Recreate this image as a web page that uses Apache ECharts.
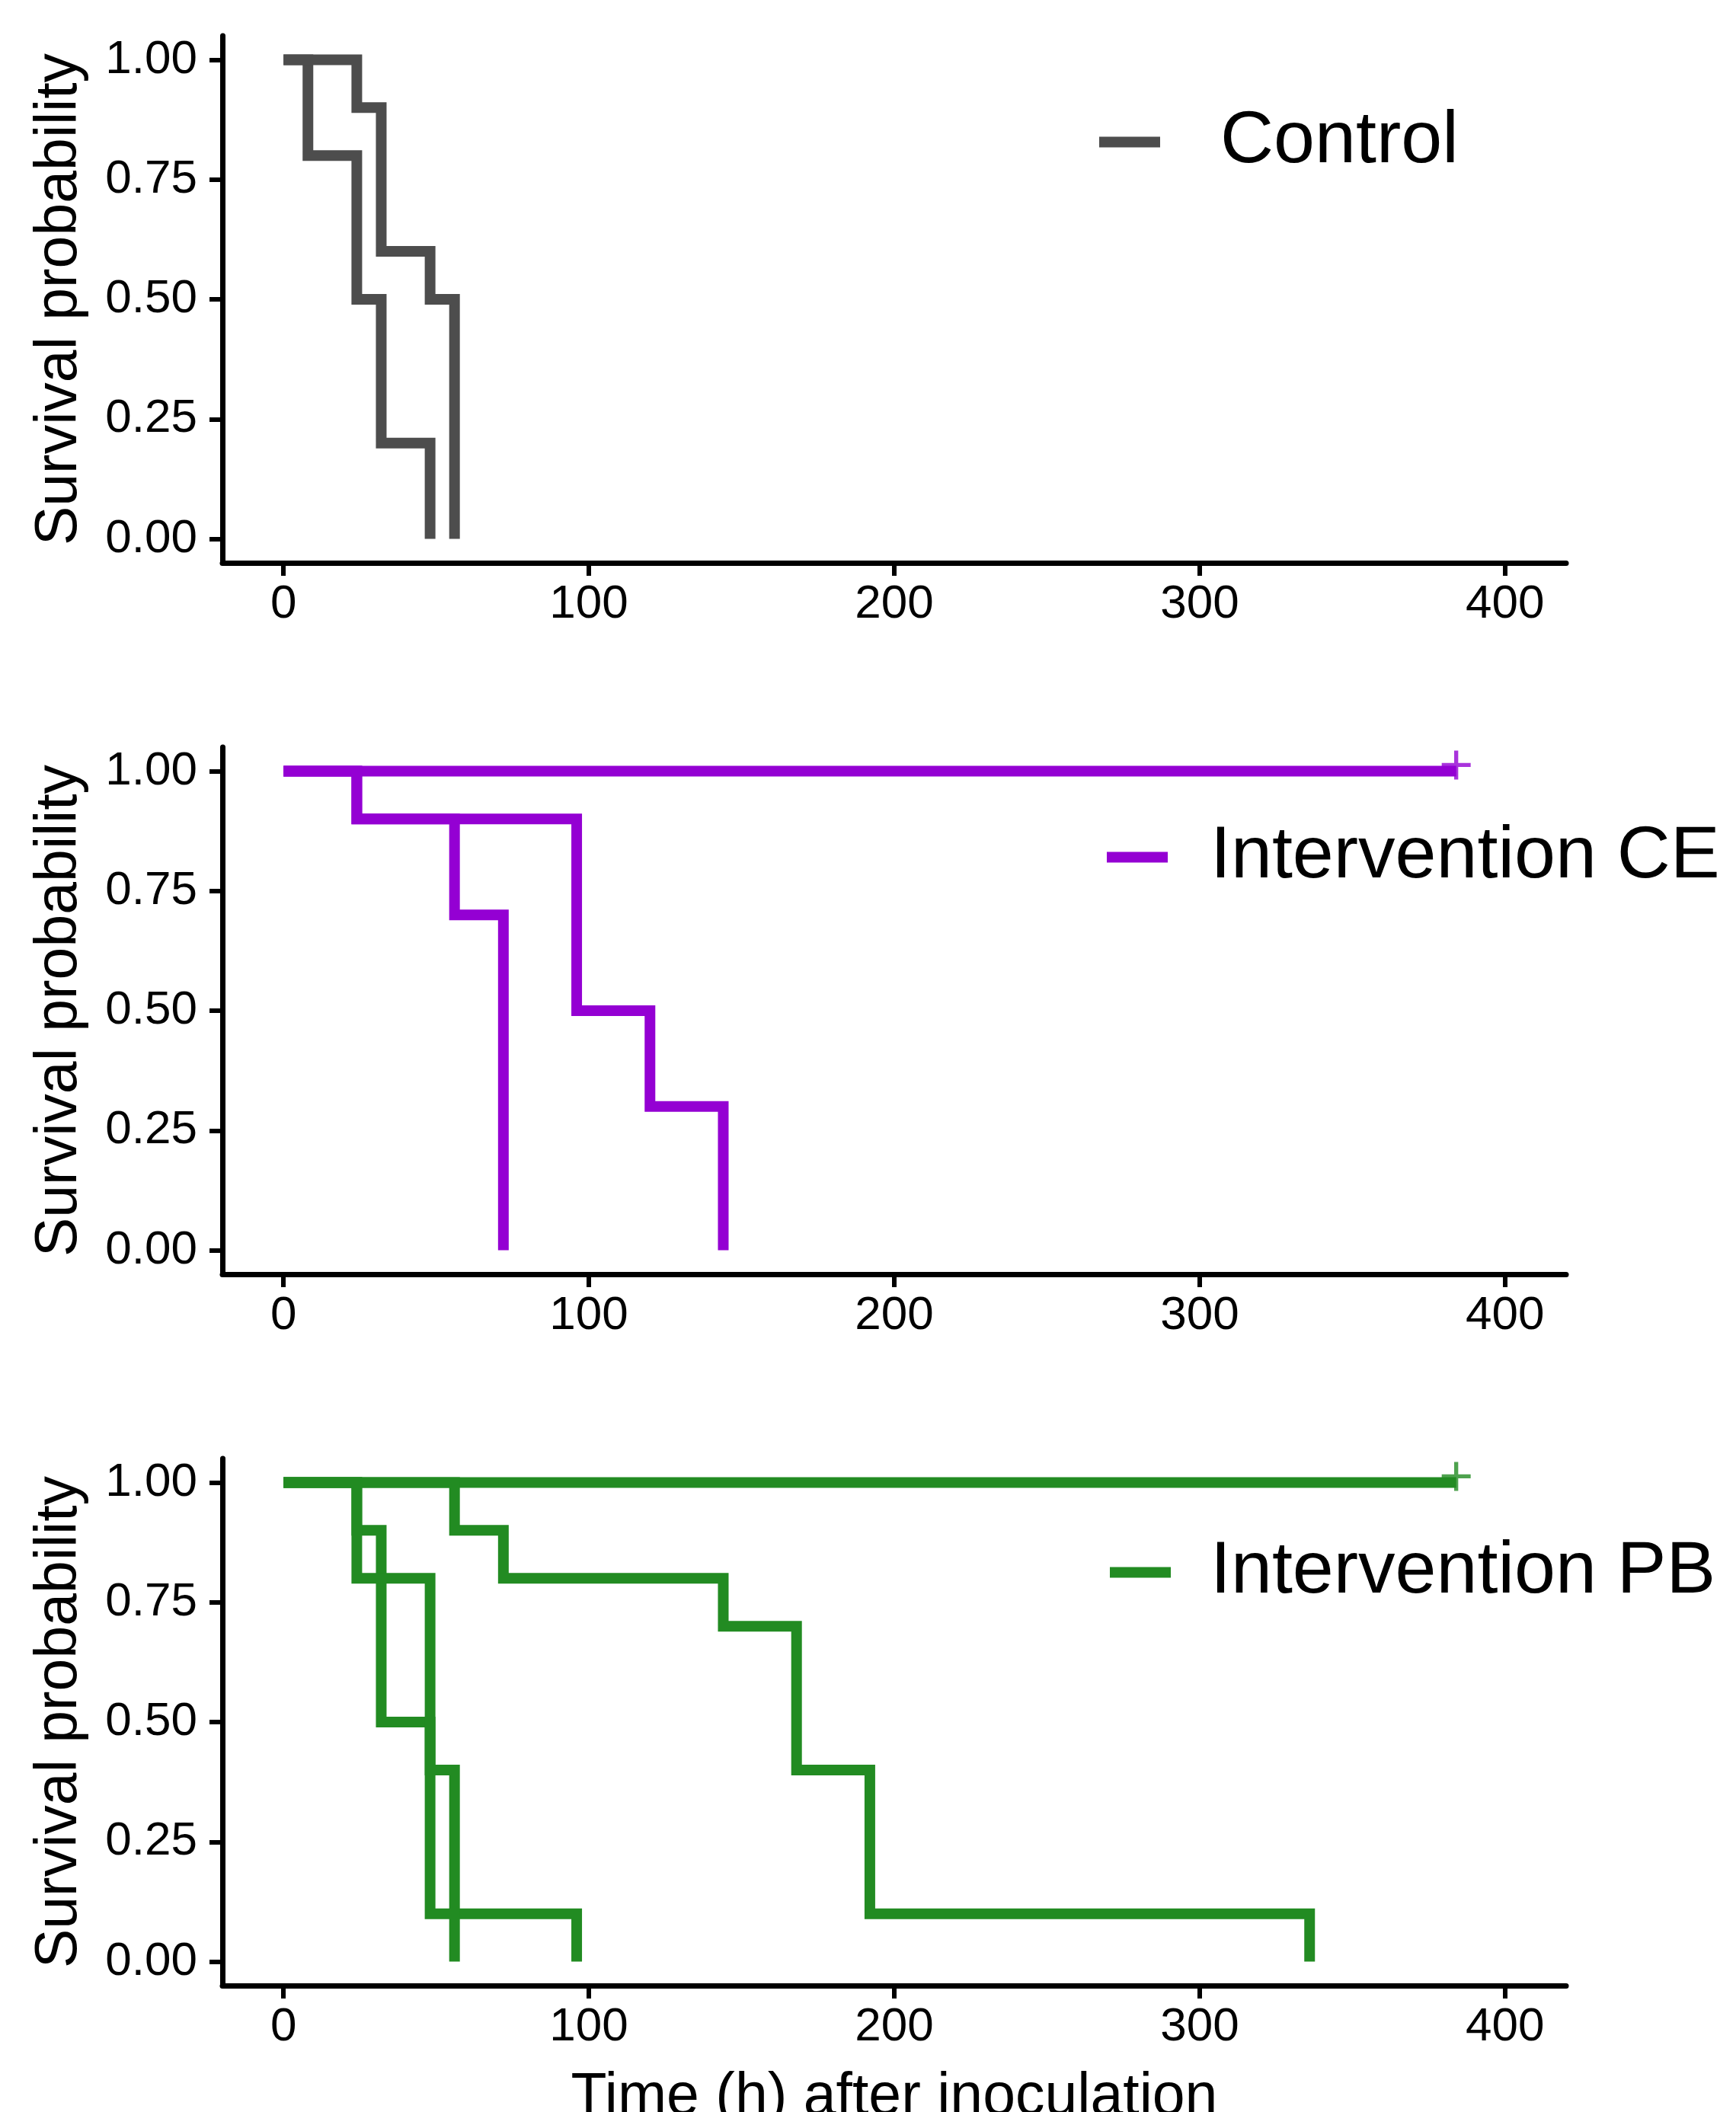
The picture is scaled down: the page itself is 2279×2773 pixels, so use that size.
<!DOCTYPE html>
<html>
<head>
<meta charset="utf-8">
<script src="https://cdn.jsdelivr.net/npm/echarts@6/dist/echarts.min.js"></script>
<style>
html,body{margin:0;padding:0;background:#fff;}
#chart{width:2279px;height:2773px;}
</style>
</head>
<body>
<div id="chart"></div>
<script>
// ---- data (time in hours, survival probability) ----
const xTicks = [0, 100, 200, 300, 400];
const yTicks = [0, 0.25, 0.5, 0.75, 1];

const groupNames = ['Control', 'Intervention CE', 'Intervention PB'];

// Control
const ctrlA_t = [0, 8, 24, 32, 48];
const ctrlA_s = [1, 0.8, 0.5, 0.2, 0];
const ctrlB_t = [0, 24, 32, 48, 56];
const ctrlB_s = [1, 0.9, 0.6, 0.5, 0];

// Intervention CE
const ceA_t = [0, 384];
const ceA_s = [1, 1];
const ceB_t = [0, 24, 96, 120, 144];
const ceB_s = [1, 0.9, 0.5, 0.3, 0];
const ceC_t = [0, 24, 56, 72];
const ceC_s = [1, 0.9, 0.7, 0];

// Intervention PB
const pbA_t = [0, 384];
const pbA_s = [1, 1];
const pbB_t = [0, 24, 32, 48, 96];
const pbB_s = [1, 0.9, 0.5, 0.1, 0];
const pbC_t = [0, 24, 48, 56];
const pbC_s = [1, 0.8, 0.4, 0];
const pbD_t = [0, 56, 72, 144, 168, 192, 336];
const pbD_s = [1, 0.9, 0.8, 0.7, 0.4, 0.1, 0];

// censored observations
const ceCens_t = [384];
const ceCens_s = [1];
const pbCens_t = [384];
const pbCens_s = [1];

// ---- styling ----
const colors = ['#4D4D4D', '#9400D3', '#228B22'];
const FONT = 'Liberation Sans, Arial, sans-serif';
const gridTops = [47, 981, 1915];
const gridH = 692;

const curves = [
  [[ctrlA_t, ctrlA_s], [ctrlB_t, ctrlB_s]],
  [[ceA_t, ceA_s], [ceB_t, ceB_s], [ceC_t, ceC_s]],
  [[pbA_t, pbA_s], [pbB_t, pbB_s], [pbC_t, pbC_s], [pbD_t, pbD_s]]
];
const censors = [null, [ceCens_t, ceCens_s], [pbCens_t, pbCens_s]];

const zip = (t, s) => t.map((v, i) => [v, s[i]]);
const plusPath = 'path://M0.43,0 H0.57 V0.43 H1 V0.57 H0.57 V1 H0.43 V0.57 H0 V0.43 H0.43 Z';

const grids = [], xAxes = [], yAxes = [], series = [], legends = [];
const legendLeft = [1438, 1448, 1452];
const legendCenterY = [183, 1122, 2061];
const legendTextPad = [74, 51, 47];

for (let p = 0; p < 3; p++) {
  grids.push({left: 292, right: 223, top: gridTops[p], height: gridH,
    containLabel: false, outerBoundsMode: 'none'});
  xAxes.push({
    type: 'value', gridIndex: p, min: -20, max: 420,
    axisLine: {show: true, onZero: false, lineStyle: {color: '#000', width: 7}},
    axisTick: {show: true, customValues: xTicks, length: 17, lineStyle: {color: '#000', width: 6}},
    axisLabel: {customValues: xTicks, margin: 24, fontSize: 62, color: '#000', fontFamily: FONT},
    splitLine: {show: false},
    name: p === 2 ? 'Time (h) after inoculation' : '',
    nameLocation: 'middle', nameGap: 109,
    nameTextStyle: {fontSize: 77, color: '#000', fontFamily: FONT}
  });
  yAxes.push({
    type: 'value', gridIndex: p, min: -0.05, max: 1.05,
    axisLine: {show: true, onZero: false, lineStyle: {color: '#000', width: 7}},
    axisTick: {show: true, customValues: yTicks, length: 17, lineStyle: {color: '#000', width: 6}},
    axisLabel: {customValues: yTicks, margin: 33, fontSize: 62, color: '#000', fontFamily: FONT,
      formatter: v => v.toFixed(2)},
    splitLine: {show: false},
    name: 'Survival probability', nameLocation: 'middle', nameRotate: 90, nameGap: 175,
    nameTextStyle: {fontSize: 77, color: '#000', fontFamily: FONT}
  });
  curves[p].forEach(c => {
    series.push({
      type: 'line', name: groupNames[p], xAxisIndex: p, yAxisIndex: p,
      data: zip(c[0], c[1]), step: 'end', symbol: 'none', showSymbol: false,
      color: colors[p],
      lineStyle: {color: colors[p], width: 14, cap: 'butt', join: 'miter'},
      silent: true
    });
  });
  if (censors[p]) {
    series.push({
      type: 'scatter', name: groupNames[p] + ' censored', xAxisIndex: p, yAxisIndex: p,
      data: zip(censors[p][0], censors[p][1]), symbol: plusPath, symbolSize: 38,
      symbolOffset: [0, -8],
      itemStyle: {color: colors[p]}, silent: true
    });
  }
  legends.push({
    data: [groupNames[p]], left: legendLeft[p], top: legendCenterY[p] - 50,
    icon: 'rect', itemWidth: 80, itemHeight: 14, selectedMode: false,
    textStyle: {fontSize: 97, color: '#000', fontFamily: FONT, padding: [0, 0, 0, legendTextPad[p]]}
  });
}

const chart = echarts.init(document.getElementById('chart'), null, {renderer: 'canvas'});
chart.setOption({
  animation: false,
  backgroundColor: '#fff',
  grid: grids, xAxis: xAxes, yAxis: yAxes, series: series, legend: legends
});
</script>
</body>
</html>
